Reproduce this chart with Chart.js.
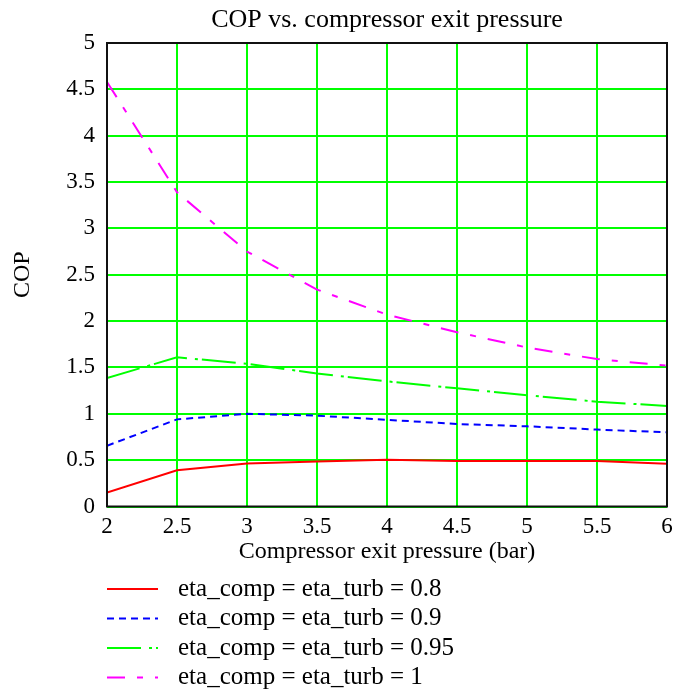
<!DOCTYPE html>
<html>
<head>
<meta charset="utf-8">
<script src="https://cdn.jsdelivr.net/npm/chart.js@4"></script>
<style>
    html, body { margin: 0; padding: 0; background: #fff; }
    #wrap { width: 676px; height: 697px; }
</style>
</head>
<body>
<div id="wrap"><canvas id="copChart" width="676" height="697"></canvas></div>
<script>
const pressures = [2, 2.5, 3, 3.5, 4, 4.5, 5, 5.5, 6];
const cop08 = [0.15, 0.39, 0.465, 0.485, 0.505, 0.49, 0.49, 0.49, 0.46];
const cop09 = [0.655, 0.94, 1.0, 0.98, 0.935, 0.89, 0.865, 0.83, 0.80];
const cop095 = [1.385, 1.61, 1.54, 1.435, 1.35, 1.275, 1.20, 1.13, 1.085];
const cop1 = [4.58, 3.39, 2.75, 2.34, 2.07, 1.88, 1.715, 1.59, 1.52];
const seriesLabels = [
    'eta_comp = eta_turb = 0.8',
    'eta_comp = eta_turb = 0.9',
    'eta_comp = eta_turb = 0.95',
    'eta_comp = eta_turb = 1'
];
const chartTitle = 'COP vs. compressor exit pressure';

const FONT = "'Liberation Serif', 'Times New Roman', serif";

function toPoints(values) {
    return values.map((v, i) => ({ x: pressures[i], y: v }));
}

function plainNumber(value) {
    return String(+value.toFixed(2));
}

// black frame round the plot area, title centred over it
const framePlugin = {
    id: 'frame',
    afterDraw(chart) {
        const a = chart.chartArea;
        const ctx = chart.ctx;
        ctx.save();
        ctx.strokeStyle = '#111';
        ctx.lineWidth = 2;
        ctx.strokeRect(a.left, a.top, a.right - a.left, a.bottom - a.top);
        ctx.fillStyle = '#000';
        ctx.font = '26px ' + FONT;
        ctx.textAlign = 'center';
        ctx.textBaseline = 'middle';
        ctx.fillText(chartTitle, (a.left + a.right) / 2, 20);
        ctx.restore();
    }
};

// legend stacked under the x axis title
const stackLegend = {
    id: 'stackLegend',
    afterDraw(chart) {
        const ctx = chart.ctx;
        ctx.save();
        chart.data.datasets.forEach((ds, i) => {
            const y = 589 + i * 29.5;
            ctx.strokeStyle = ds.borderColor;
            ctx.lineWidth = 2;
            ctx.setLineDash(ds.borderDash || []);
            ctx.beginPath();
            ctx.moveTo(107, y);
            ctx.lineTo(158, y);
            ctx.stroke();
            ctx.setLineDash([]);
            ctx.fillStyle = '#000';
            ctx.font = '25px ' + FONT;
            ctx.textBaseline = 'middle';
            ctx.fillText(ds.label, 178, y);
        });
        ctx.restore();
    }
};

new Chart(document.getElementById('copChart'), {
    type: 'line',
    data: {
        datasets: [{
            label: seriesLabels[0],
            data: toPoints(cop08),
            borderColor: '#ff0000',
            borderWidth: 2
        }, {
            label: seriesLabels[1],
            data: toPoints(cop09),
            borderColor: '#0000ff',
            borderWidth: 2,
            borderDash: [7, 5]
        }, {
            label: seriesLabels[2],
            data: toPoints(cop095),
            borderColor: '#00ff00',
            borderWidth: 2,
            borderDash: [34, 8, 3, 4]
        }, {
            label: seriesLabels[3],
            data: toPoints(cop1),
            borderColor: '#ff00ff',
            borderWidth: 2,
            borderDash: [18, 12, 6, 12]
        }]
    },
    options: {
        responsive: false,
        animation: false,
        layout: {
            padding: { left: 0, right: 9, top: 43, bottom: 130.5 }
        },
        elements: {
            point: { radius: 0 },
            line: { tension: 0 }
        },
        scales: {
            x: {
                type: 'linear',
                min: 2,
                max: 6,
                afterFit: function (scale) {
                    scale.height = 60;
                    scale.paddingLeft = 0;
                    scale.paddingRight = 0;
                },
                ticks: {
                    stepSize: 0.5,
                    color: '#000',
                    padding: 7,
                    font: { family: FONT, size: 23 },
                    callback: plainNumber
                },
                grid: {
                    color: '#00ff00',
                    lineWidth: 2,
                    drawTicks: false
                },
                border: { display: false },
                title: {
                    display: true,
                    text: 'Compressor exit pressure (bar)',
                    color: '#000',
                    font: { family: FONT, size: 24 },
                    padding: { top: 0, bottom: 0 }
                }
            },
            y: {
                min: 0,
                max: 5,
                afterFit: function (scale) { scale.width = 107; },
                ticks: {
                    stepSize: 0.5,
                    color: '#000',
                    padding: 12,
                    font: { family: FONT, size: 23 },
                    callback: plainNumber
                },
                grid: {
                    color: '#00ff00',
                    lineWidth: 2,
                    drawTicks: false
                },
                border: { display: false },
                title: {
                    display: true,
                    text: 'COP',
                    color: '#000',
                    font: { family: FONT, size: 24 },
                    padding: { top: 8, bottom: 0 }
                }
            }
        },
        plugins: {
            legend: { display: false },
            tooltip: { enabled: false },
            title: { display: false }
        }
    },
    plugins: [framePlugin, stackLegend]
});
</script>
</body>
</html>
